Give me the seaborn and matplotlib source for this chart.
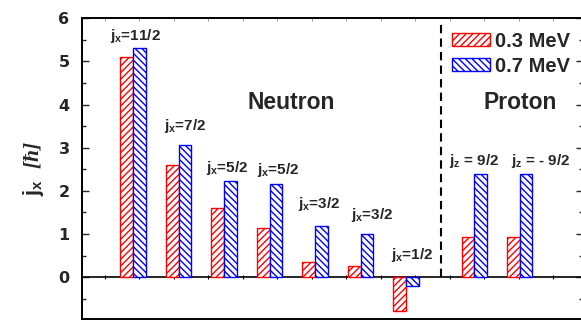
import numpy as np
import pandas as pd
import matplotlib
matplotlib.use("Agg")
import matplotlib.pyplot as plt
import seaborn as sns
from matplotlib.patches import Patch

# Angular momentum alignment of the orbitals at two rotational frequencies
orbital_labels = [r"$\mathbf{j_x}$=11/2", r"$\mathbf{j_x}$=7/2", r"$\mathbf{j_x}$=5/2",
                  r"$\mathbf{j_x}$=5/2", r"$\mathbf{j_x}$=3/2", r"$\mathbf{j_x}$=3/2",
                  r"$\mathbf{j_x}$=1/2", r"$\mathbf{j_z}$ = 9/2", r"$\mathbf{j_z}$ = - 9/2"]
orbital_pos = [1, 2, 3, 4, 5, 6, 7, 8.5, 9.5]
jx_03 = [5.11, 2.61, 1.60, 1.14, 0.35, 0.25, -0.79, 0.92, 0.92]
jx_07 = [5.31, 3.06, 2.23, 2.17, 1.19, 0.99, -0.20, 2.38, 2.38]
freq_names = ["0.3 MeV", "0.7 MeV"]

# label placement relative to each bar pair
label_dx = [0.05, 0.14, 0.08, 0.19, 0.09, 0.26, 0.14, 0.0, 0.47]
label_gap = [0.07, 0.23, 0.10, 0.10, 0.29, 0.24, 0.30, 0.10, 0.10]

df = pd.DataFrame({
    "pos": orbital_pos * 2,
    "jx": jx_03 + jx_07,
    "freq": [freq_names[0]] * len(jx_03) + [freq_names[1]] * len(jx_07),
})

sns.set_style("ticks")
plt.rcParams["font.family"] = ["Liberation Sans", "DejaVu Sans"]
plt.rcParams["font.weight"] = "bold"
plt.rcParams["mathtext.fontset"] = "custom"
plt.rcParams["mathtext.rm"] = "Liberation Serif:italic"
plt.rcParams["mathtext.it"] = "Liberation Serif:italic"
plt.rcParams["mathtext.bf"] = "Liberation Sans:bold"
plt.rcParams["hatch.linewidth"] = 1.0

fig = plt.figure(figsize=(5.81, 3.22), dpi=100)
ax = fig.add_axes([82 / 581, 1 - 319 / 322, (583 - 82) / 581, (319 - 18.3) / 322])

sns.barplot(data=df, x="pos", y="jx", hue="freq", native_scale=True,
            palette=["red", "blue"], width=0.55, errorbar=None,
            saturation=1, legend=False, ax=ax)

hatches = {"red": "/////", "blue": "\\\\\\\\\\"}
for p in ax.patches:
    r, g, b, _ = p.get_facecolor()
    col = "red" if r > b else "blue"
    p.set_facecolor("white")
    p.set_edgecolor(col)
    p.set_hatch(hatches[col])
    p.set_linewidth(1.0)
    p.set_zorder(3)

ax.set_xlim(-0.121, 10.89)
ax.set_ylim(-0.97, 6)

# zero line and separator between neutron and proton orbitals
ax.axhline(0, color="black", lw=1.2, zorder=2)
ax.plot([7.77, 7.77], [0, 5.87], color="black", lw=1.5, ls=(0, (4, 2.5)), zorder=2)

xt = np.arange(0.384, 10.9, 0.758)
ax.plot(xt, np.zeros_like(xt), ls="none", marker="|", ms=3, mew=0.8,
        color="black", zorder=1)

for x, lab, a, b, dx, gap in zip(orbital_pos, orbital_labels, jx_03, jx_07,
                                 label_dx, label_gap):
    top = max(a, b, 0)
    ax.text(x + dx, top + gap, lab, ha="center", va="bottom",
            fontsize=11, fontweight="bold")

ax.text(4.47, 4.04, "Neutron", ha="center", va="center", fontsize=16.5,
        fontweight="bold")
ax.text(9.5, 4.04, "Proton", ha="center", va="center", fontsize=16.5,
        fontweight="bold")

ax.set_yticks(range(0, 7))
ax.set_yticks(np.arange(-0.5, 6, 1.0), minor=True)
ax.set_xticks(xt)
ax.set_xticklabels([])
ax.set_xlabel("")
ax.tick_params(axis="y", which="major", direction="in", left=True, right=True,
               length=5, width=1.0, pad=9, labelsize=11.5)
ax.tick_params(axis="y", which="minor", direction="in", left=True, right=True,
               length=3, width=1.0)
ax.tick_params(axis="x", which="major", direction="in", bottom=False, top=True,
               length=2.5, width=0.5, colors="0.4")
for lab in ax.get_yticklabels():
    lab.set_family("DejaVu Sans")
    lab.set_weight("bold")

for s in ax.spines.values():
    s.set_linewidth(1.4)
    s.set_color("black")

ax.set_ylabel(r"$\mathbf{j_x}$  $[\hbar]$", fontsize=15.5, labelpad=9)

handles = [Patch(facecolor="white", edgecolor="red", hatch=hatches["red"], lw=1.0),
           Patch(facecolor="white", edgecolor="blue", hatch=hatches["blue"], lw=1.0)]
ax.legend(handles, freq_names, loc="upper left", bbox_to_anchor=(0.7385, 0.955),
          frameon=False, borderpad=0, borderaxespad=0, handlelength=1.9,
          handleheight=0.6, handletextpad=0.25, labelspacing=0.3,
          prop={"size": 14.5, "weight": "bold"})

fig.savefig("out.png", dpi=100)
